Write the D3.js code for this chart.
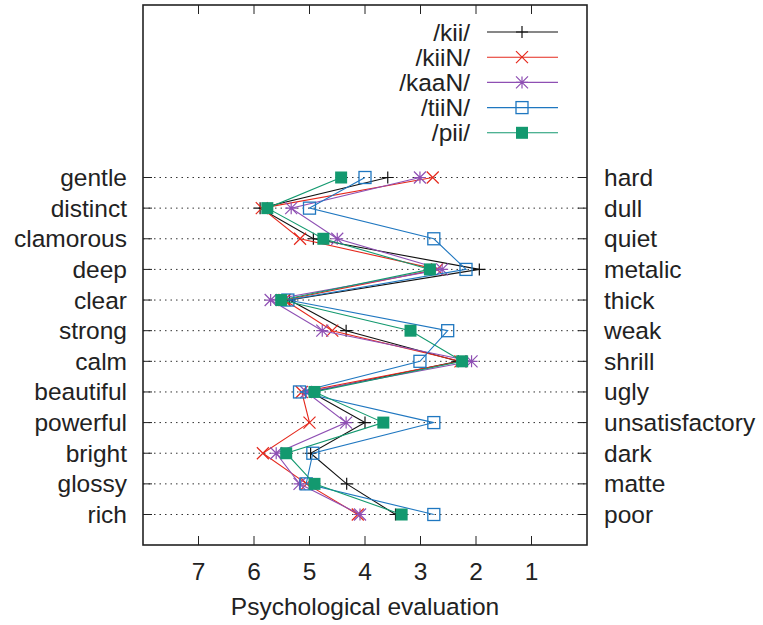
<!DOCTYPE html>
<html>
<head>
<meta charset="utf-8">
<script src="https://cdn.jsdelivr.net/npm/d3@7"></script>
<style>
  body { margin: 0; background: #fff; }
  text { font-family: "Liberation Sans", Arial, sans-serif; fill: #222; }
</style>
</head>
<body>
<div id="chart"></div>
<script>
// categories (left adjective / right adjective)
const leftWords  = ["gentle", "distinct", "clamorous", "deep", "clear", "strong", "calm", "beautiful", "powerful", "bright", "glossy", "rich"]
const rightWords = ["hard", "dull", "quiet", "metalic", "thick", "weak", "shrill", "ugly", "unsatisfactory", "dark", "matte", "poor"]
const xTicks = [7, 6, 5, 4, 3, 2, 1]

// series values, one per category
const kii  = [3.59, 5.89, 4.93, 1.94, 5.36, 4.34, 2.32, 4.98, 4.00, 4.98, 4.33, 3.45]
const kiiN = [2.78, 5.86, 5.17, 2.70, 5.45, 4.59, 2.28, 5.14, 5.00, 5.84, 5.05, 4.13]
const kaaN = [3.01, 5.33, 4.50, 2.61, 5.70, 4.77, 2.08, 5.06, 4.34, 5.60, 5.18, 4.09]
const tiiN = [4.00, 5.00, 2.76, 2.18, 5.39, 2.51, 3.01, 5.18, 2.76, 4.94, 5.06, 2.76]
const pii  = [4.43, 5.76, 4.75, 2.83, 5.51, 3.18, 2.25, 4.91, 3.67, 5.42, 4.91, 3.34]

const series = [
    {name: "/kii/",  values: kii,  color: "#111111", mark: "plus"},
    {name: "/kiiN/", values: kiiN, color: "#e5281c", mark: "cross"},
    {name: "/kaaN/", values: kaaN, color: "#8e4fb3", mark: "star"},
    {name: "/tiiN/", values: tiiN, color: "#1f77c0", mark: "box"},
    {name: "/pii/",  values: pii,  color: "#13996f", mark: "fbox"}
]

const W = 763, H = 625
const pL = 143, pR = 587, pT = 5, pB = 545
const fs = "24.5px"

const svg = d3.select("#chart").append("svg")
    .attr("width", W).attr("height", H)

const x = d3.scaleLinear().domain([8, 0]).range([pL, pR])
const y = d3.scalePoint().domain(d3.range(leftWords.length)).range([177.5, 514.5])

// dotted grid
svg.append("g").selectAll("line")
    .data(d3.range(leftWords.length))
    .join("line")
    .attr("x1", pL).attr("x2", pR)
    .attr("y1", d => y(d)).attr("y2", d => y(d))
    .attr("stroke", "#333").attr("stroke-width", 1)
    .attr("stroke-dasharray", "1.5,4")

// inner ticks
const tk = 9
const xt = svg.append("g").attr("stroke", "#222").attr("stroke-width", 1)
xTicks.forEach(t => {
    xt.append("line").attr("x1", x(t)).attr("x2", x(t)).attr("y1", pB).attr("y2", pB - tk)
    xt.append("line").attr("x1", x(t)).attr("x2", x(t)).attr("y1", pT).attr("y2", pT + tk)
})
d3.range(leftWords.length).forEach(i => {
    xt.append("line").attr("x1", pL).attr("x2", pL + tk).attr("y1", y(i)).attr("y2", y(i))
    xt.append("line").attr("x1", pR).attr("x2", pR - tk).attr("y1", y(i)).attr("y2", y(i))
})

// frame
svg.append("rect")
    .attr("x", pL).attr("y", pT)
    .attr("width", pR - pL).attr("height", pB - pT)
    .attr("fill", "none").attr("stroke", "#222").attr("stroke-width", 1.6)

// tick labels
svg.append("g").selectAll("text")
    .data(xTicks)
    .join("text")
    .attr("x", d => x(d)).attr("y", 580)
    .attr("text-anchor", "middle")
    .style("font-size", fs)
    .text(d => d)

svg.append("text")
    .attr("x", 365).attr("y", 615)
    .attr("text-anchor", "middle")
    .style("font-size", fs)
    .text("Psychological evaluation")

svg.append("g").selectAll("text")
    .data(leftWords)
    .join("text")
    .attr("x", 127).attr("y", (d, i) => y(i) + 8.5)
    .attr("text-anchor", "end")
    .style("font-size", fs)
    .text(d => d)

svg.append("g").selectAll("text")
    .data(rightWords)
    .join("text")
    .attr("x", 604).attr("y", (d, i) => y(i) + 8.5)
    .attr("text-anchor", "start")
    .style("font-size", fs)
    .text(d => d)

// marker drawing
function marker(g, type, color, cx, cy) {
    const s = 6
    if (type === "plus") {
        g.append("path").attr("d", `M${cx - s},${cy}H${cx + s}M${cx},${cy - s}V${cy + s}`)
            .attr("stroke", color).attr("stroke-width", 1.2).attr("fill", "none")
    } else if (type === "cross") {
        g.append("path").attr("d", `M${cx - s},${cy - s}L${cx + s},${cy + s}M${cx - s},${cy + s}L${cx + s},${cy - s}`)
            .attr("stroke", color).attr("stroke-width", 1.2).attr("fill", "none")
    } else if (type === "star") {
        g.append("path").attr("d", `M${cx - s},${cy}H${cx + s}M${cx},${cy - s}V${cy + s}M${cx - s},${cy - s}L${cx + s},${cy + s}M${cx - s},${cy + s}L${cx + s},${cy - s}`)
            .attr("stroke", color).attr("stroke-width", 1.2).attr("fill", "none")
    } else if (type === "box") {
        g.append("rect").attr("x", cx - s).attr("y", cy - s).attr("width", 2 * s).attr("height", 2 * s)
            .attr("stroke", color).attr("stroke-width", 1.3).attr("fill", "none")
    } else {
        g.append("rect").attr("x", cx - s).attr("y", cy - s).attr("width", 2 * s).attr("height", 2 * s)
            .attr("fill", color)
    }
}

const line = d3.line().x(d => x(d[0])).y(d => y(d[1]))

series.forEach(s => {
    const g = svg.append("g")
    const pts = s.values.map((v, i) => [v, i])
    g.append("path").attr("d", line(pts))
        .attr("fill", "none").attr("stroke", s.color).attr("stroke-width", 1.1)
    pts.forEach(p => marker(g, s.mark, s.color, x(p[0]), y(p[1])))
})

// legend
series.forEach((s, i) => {
    const ly = 32 + i * 25.2
    const g = svg.append("g")
    g.append("text").attr("x", 470).attr("y", ly + 8.5)
        .attr("text-anchor", "end").style("font-size", fs).text(s.name)
    g.append("line").attr("x1", 487).attr("x2", 558).attr("y1", ly).attr("y2", ly)
        .attr("stroke", s.color).attr("stroke-width", 1.1)
    marker(g, s.mark, s.color, 522, ly)
})
</script>
</body>
</html>
